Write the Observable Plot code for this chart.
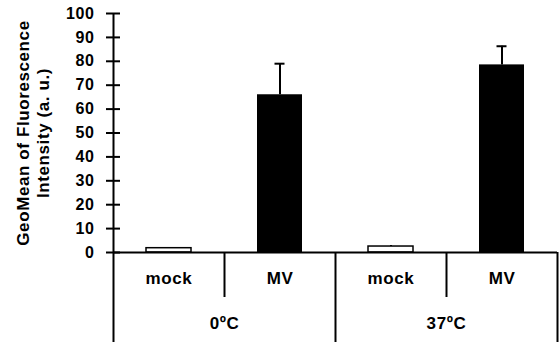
<!DOCTYPE html>
<html>
<head>
<meta charset="utf-8">
<script src="https://cdn.jsdelivr.net/npm/d3@7"></script>
<script src="https://cdn.jsdelivr.net/npm/@observablehq/plot@0.6"></script>
<style>
  html, body { margin: 0; padding: 0; background: #fff; }
  #chart svg { display: block; }
  #chart text { letter-spacing: 0.6px; }
</style>
</head>
<body>
<div id="chart"></div>
<script>
const groups = ["0ºC", "37ºC"];
const conditions = ["mock", "MV"];
const values = [1.8, 66, 2.5, 78.5];
const errors = [0.3, 13, 0.4, 7.8];
const yTicks = [0, 10, 20, 30, 40, 50, 60, 70, 80, 90, 100];
const yTitle = "GeoMean of Fluorescence\nIntensity (a. u.)";

const data = [];
groups.forEach((g, gi) => conditions.forEach((c, ci) => {
  const i = gi * conditions.length + ci;
  data.push({key: g + "|" + c, group: g, cond: c, value: values[i], err: errors[i]});
}));
const keys = data.map(d => d.key);

const width = 560, height = 342;
const marginLeft = 113, marginRight = 3, marginTop = 13, marginBottom = 90;
const bw = (width - marginLeft - marginRight) / keys.length;
const plotH = height - marginTop - marginBottom;
const yBottom = -100 * marginBottom / plotH;
const yInner = -100 * 45 / plotH;

const font = "Liberation Sans, Arial, Helvetica, sans-serif";

const chart = Plot.plot({
  width, height, marginLeft, marginRight, marginTop, marginBottom,
  style: {fontFamily: font, color: "black", background: "white"},
  x: {type: "band", domain: keys, padding: 0, axis: null},
  y: {domain: [0, 100]},
  marks: [
    Plot.ruleX([keys[0]], {x: d => d, dx: -bw / 2, y1: yBottom, y2: 100, stroke: "black", strokeWidth: 2}),
    Plot.ruleX(groups.slice(1).map(g => g + "|" + conditions[0]), {x: d => d, dx: -bw / 2, y1: yBottom, y2: 0, stroke: "black", strokeWidth: 2}),
    Plot.ruleX([keys[keys.length - 1]], {x: d => d, dx: bw / 2, y1: yBottom, y2: 0, stroke: "black", strokeWidth: 2}),
    Plot.ruleX(groups.map(g => g + "|" + conditions[1]), {x: d => d, dx: -bw / 2, y1: yInner, y2: 0, stroke: "black", strokeWidth: 2}),
    Plot.ruleX(data, {x: "key", y1: "value", y2: d => d.value + d.err, stroke: "black", strokeWidth: 2}),
    Plot.tickY(data.filter(d => d.err > 1), {x: "key", y: d => d.value + d.err, stroke: "black", strokeWidth: 2, insetLeft: bw / 2 - 5, insetRight: bw / 2 - 5}),
    Plot.barY(data.filter(d => d.cond === "mock"), {x: "key", y: "value", fill: "white", stroke: "black", strokeWidth: 1.5, insetLeft: 33, insetRight: 33}),
    Plot.barY(data.filter(d => d.cond === "MV"), {x: "key", y: "value", fill: "black", insetLeft: 33, insetRight: 33}),
    Plot.ruleY([0], {stroke: "black", strokeWidth: 2}),
    Plot.axisY({ticks: yTicks, tickSize: 14, dx: 7, tickPadding: 12, label: null, fontSize: 16, fontWeight: "bold", stroke: "black", strokeWidth: 2, fill: "black"}),
    Plot.text(data, {x: "key", text: "cond", frameAnchor: "bottom", dy: 31, fontSize: 17, fontWeight: "bold", fill: "black"}),
    Plot.text(groups, {x: d => d + "|" + conditions[1], text: d => d, dx: -bw / 2, frameAnchor: "bottom", dy: 76, fontSize: 17, fontWeight: "bold", fill: "black"}),
    Plot.text([yTitle], {frameAnchor: "left", dx: -81, rotate: -90, text: d => d, lineAnchor: "middle", textAnchor: "middle", fontSize: 17, fontWeight: "bold", fill: "black", lineHeight: 1.15})
  ]
});
document.getElementById("chart").appendChild(chart);
</script>
</body>
</html>
